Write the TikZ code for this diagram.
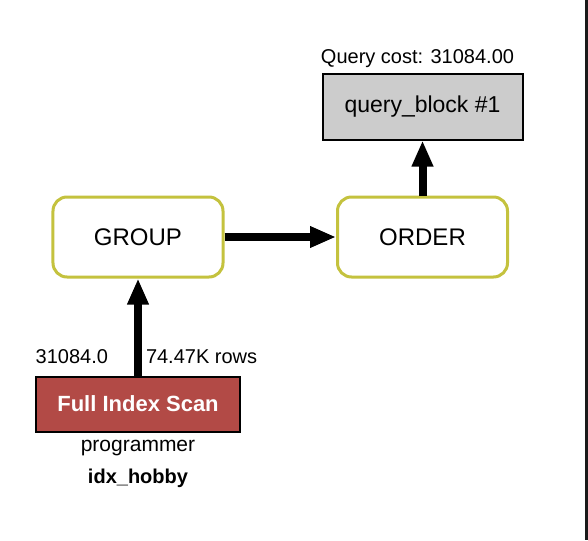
\documentclass[tikz,border=0pt]{standalone}
\usepackage{fontspec}
\setmainfont{Liberation Sans}
\usetikzlibrary{matrix,arrows.meta}
\definecolor{opline}{HTML}{C4C23E}
\definecolor{scanred}{HTML}{B24A46}
\definecolor{qgray}{HTML}{CCCCCC}
\definecolor{sidebar}{HTML}{1A1A1A}

\tikzset{
  opbox/.style={draw=opline,line width=3pt,rounded corners=14pt,fill=white,
    minimum width=170pt,minimum height=80pt,font=\fontsize{24}{28}\selectfont},
  qbox/.style={draw,line width=2pt,fill=qgray,minimum width=200pt,
    minimum height=66pt,font=\fontsize{23}{27}\selectfont},
  scanbox/.style={draw,line width=2pt,fill=scanred,text=white,minimum width=203pt,
    minimum height=55pt,font=\fontsize{22}{26}\selectfont\bfseries},
  lbl/.style={inner sep=0pt,outer sep=0pt,font=\fontsize{20}{24}\selectfont},
  flow/.style={line width=8pt,-{Triangle[length=26pt,width=20pt]}}
}

\begin{document}
\begin{tikzpicture}[x=1pt,y=1pt]
  \useasboundingbox (0,0) rectangle (588,-540);
  \fill[sidebar] (585,0) rectangle (588,-540);
  \matrix (m) [matrix of nodes,row sep=55pt,column sep=81pt,nodes={anchor=center},
    anchor=m-2-1.center] at (138,-237) {
                                 & |[qbox]| query\_block \#1 \\
     |[opbox]| GROUP             & |[opbox]| ORDER \\[42pt]
     |[scanbox]| Full Index Scan & \\};
  \path[flow]
    (m-3-1) edge node [lbl,pos=.19,left=30pt] {31084.0}
                 node [lbl,pos=.19,right=8pt] {74.47K rows} (m-2-1)
    (m-2-1) edge (m-2-2)
    (m-2-2) edge (m-1-2);
  \node (cost) [lbl,anchor=base] at ([xshift=-5pt,yshift=9pt]m-1-2.north) {Query cost: 31084.00};
  \node (tbl) [lbl,anchor=base,font=\fontsize{21}{25}\selectfont] at ([yshift=-19pt]m-3-1.south) {programmer};
  \node (idx) [lbl,anchor=base,font=\fontsize{20}{24}\selectfont\bfseries] at ([yshift=-51pt]m-3-1.south) {idx\_hobby};
\end{tikzpicture}
\end{document}
